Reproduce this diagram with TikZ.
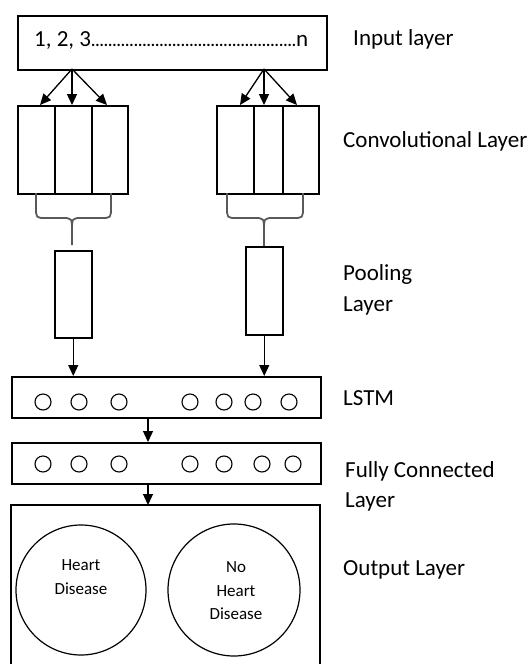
\documentclass[tikz,border=0pt]{standalone}
\usepackage{fontspec}
\setmainfont{Carlito}
\usetikzlibrary{arrows.meta,calc}
\newcommand\lblfont{\fontsize{23}{28}\selectfont}
\newcommand\smfont{\fontsize{17}{23.5}\selectfont}
\begin{document}
\begin{tikzpicture}[x=1pt,y=-1pt,
  box/.style={draw, line width=1.5pt, inner sep=0pt, anchor=north west},
  conn/.style={line width=1.3pt, -{Triangle[length=11pt,width=10pt]}},
  brc/.style={draw=black!65, line width=1.8pt},
  neuron/.style={circle, draw, line width=1.1pt, minimum size=16pt, inner sep=0pt},
  outc/.style={circle, draw, line width=1.2pt, inner sep=0pt},
  lbl/.style={anchor=base west, inner sep=0pt, font=\lblfont},
  otxt/.style={align=center, inner sep=0pt, font=\smfont}]
\useasboundingbox (0,0) rectangle (532,664);
% input
\node[box, minimum width=309pt, minimum height=54pt] (inp) at (17,15) {};
\node[anchor=base west, inner sep=0pt, font=\lblfont] (inptxt) at (34,46)
  {1, 2, 3{\fontsize{16}{16}\selectfont\bfseries ................................................}n};
% conv boxes
\node[box, minimum width=37pt, minimum height=88pt] (c1a) at (17,105) {};
\node[box, minimum width=37pt, minimum height=88pt] (c1b) at (54,105) {};
\node[box, minimum width=36pt, minimum height=88pt] (c1c) at (91,105) {};
\node[box, minimum width=37pt, minimum height=88pt] (c2a) at (216,105) {};
\node[box, minimum width=29pt, minimum height=88pt] (c2b) at (253,105) {};
\node[box, minimum width=36pt, minimum height=88pt] (c2c) at (282,105) {};
% arrows input -> conv
\coordinate (s1) at (72,69);
\coordinate (s2) at (264,69);
\coordinate (t1a) at (40,105);
\coordinate (t1b) at (72,105);
\coordinate (t1c) at (107,105);
\coordinate (t2a) at (240,105);
\coordinate (t2b) at (264,105);
\coordinate (t2c) at (297,105);
\draw[conn] (s1) -- (t1a);
\draw[conn] (s1) -- (t1b);
\draw[conn] (s1) -- (t1c);
\draw[conn] (s2) -- (t2a);
\draw[conn] (s2) -- (t2b);
\draw[conn] (s2) -- (t2c);
% pooling
\node[box, minimum width=37pt, minimum height=87pt] (p1) at (54,250) {};
\node[box, minimum width=37pt, minimum height=88pt] (p2) at (245,246) {};
% braces
\draw[brc] (36,193) -- (36,207) .. controls (36,218) .. (46,218) -- (62,218)
  .. controls (72,218) .. (72,231) -- (72,245);
\draw[brc] (111,193) -- (111,207) .. controls (111,218) .. (101,218) -- (82,218)
  .. controls (72,218) .. (72,231);
\draw[brc] (227,193) -- (227,207) .. controls (227,218) .. (237,218) -- (254,218)
  .. controls (264,218) .. (264,231) -- (264,246);
\draw[brc] (303,193) -- (303,207) .. controls (303,218) .. (293,218) -- (274,218)
  .. controls (264,218) .. (264,231);
% LSTM and FC
\node[box, minimum width=309pt, minimum height=41pt] (lstm) at (11,376) {};
\node[box, minimum width=309pt, minimum height=41pt] (fc) at (11,442) {};
\draw[conn] (p1.south) -- (p1.south |- lstm.north);
\draw[conn] (p2.south) -- (p2.south |- lstm.north);
\coordinate (a1) at (148,417);
\coordinate (a2) at (148,483);
\draw[conn] (a1) -- (a1 |- fc.north);
\coordinate (out) at (148,505);
\draw[conn] (a2) -- (out);
\foreach \x [count=\i] in {43,79,119,190,224,253,289}
  \node[neuron] (l\i) at (\x,402) {};
\foreach \x [count=\i] in {43,79,119,190,224,262,293}
  \node[neuron] (f\i) at (\x,464) {};
% output
\draw[line width=1.5pt] (11,666) -- (11,505) -- (320,505) -- (320,666);
\node[outc, minimum size=130pt] (hd) at (81,590) {};
\node[outc, minimum size=132pt] (nhd) at (234,590) {};
\node[otxt] (hdt) at (81,577) {Heart\\Disease};
\node[otxt] (nhdt) at (236,591) {No\\Heart\\Disease};
% labels
\node[lbl] (lin) at (353,45) {Input layer};
\node[lbl] (lconv) at (343,147) {Convolutional Layer};
\node[lbl] (lpool1) at (343,280) {Pooling};
\node[lbl] (lpool2) at (343,311) {Layer};
\node[lbl] (llstm) at (343,405) {LSTM};
\node[lbl] (lfc1) at (345,477) {Fully Connected};
\node[lbl] (lfc2) at (345,507) {Layer};
\node[lbl] (lout) at (343,575) {Output Layer};
\end{tikzpicture}
\end{document}
